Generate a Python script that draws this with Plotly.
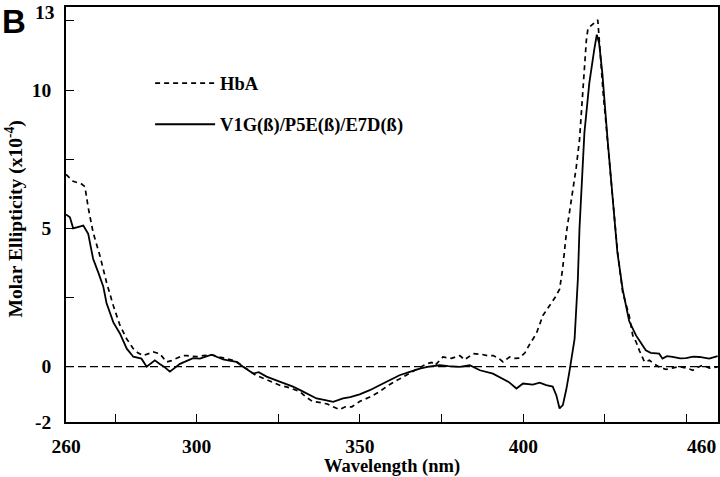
import plotly.graph_objects as go

# HbA (dashed)
hba_wl = [260, 261, 262.2, 263.5, 264.8, 265.8, 266.8, 268.3, 270.4, 272.4, 274.5, 276.5, 278.6, 280.6,
          282, 283.6, 285, 286.7, 288.7, 290.8, 292.3, 293.9, 295.8, 297, 300, 302, 304.6, 307, 309, 312,
          315.2, 318, 321, 325.4, 328, 331.6, 333.5, 335.5, 338, 340, 341.7, 343.8, 345.5, 347.5, 350,
          353, 356, 359, 362, 365, 368, 370.3, 372, 373, 375.4, 378, 380.6, 382, 384.7, 387, 389, 390.8,
          392.5, 393.8, 395.8, 397, 398.8, 400.5, 401.9, 404, 406, 408, 410, 411.1, 412, 413.2, 414.2,
          415.2, 416.2, 417.2, 418, 418.7, 419.3, 419.8, 421, 421.8, 422.8, 423.1, 423.8, 424.5, 425.3,
          426.3, 427.3, 428.8, 430.4, 431.5, 432.4, 433.5, 434.5, 435.5, 436.3, 437.1, 438.6, 440, 441.6,
          443.7, 445.5, 447.8, 450, 451.9, 453.5, 454.9, 457, 459.5]
hba_val = [6.95, 6.85, 6.7, 6.65, 6.6, 6.5, 5.75, 4.85, 4.0, 3.05, 2.2, 1.5, 1.0, 0.65,
           0.5, 0.4, 0.45, 0.53, 0.47, 0.17, 0.22, 0.29, 0.4, 0.4, 0.36, 0.4, 0.43, 0.35, 0.3, 0.2,
           -0.07, -0.3, -0.45, -0.67, -0.75, -0.9, -1.1, -1.26, -1.3, -1.35, -1.45, -1.55, -1.45, -1.45, -1.25,
           -1.1, -0.9, -0.65, -0.45, -0.25, -0.05, 0.1, 0.15, 0.05, 0.35, 0.3, 0.4, 0.25, 0.47, 0.45, 0.4, 0.4,
           0.3, 0.17, 0.35, 0.3, 0.31, 0.5, 0.8, 1.2, 1.85, 2.2, 2.55, 2.8, 3.5, 4.85, 5.6,
           6.4, 7.2, 8.2, 9.5, 10.85, 11.8, 12.23, 12.35, 12.4, 12.53, 12.05, 10.85, 9.8, 8.8,
           7.5, 6.1, 4.2, 2.7, 2.2, 1.85, 1.13, 0.9, 0.59, 0.35, 0.17, 0.23, 0.1, -0.01,
           -0.1, -0.05, 0.0, -0.05, -0.13, -0.02, 0.05, -0.05, -0.01]

# V1G(ß)/P5E(ß)/E7D(ß) (solid)
mut_wl = [260, 261.2, 262.2, 263.5, 265.3, 266.8, 268.3, 269.9, 271.4, 272.4, 274.5, 276.5, 278.6, 280.6,
          283.1, 284.7, 287.2, 288.7, 290, 291.8, 294.9, 298.9, 301, 304.6, 308.1, 310, 312.2, 314.2,
          317.3, 319, 321.4, 325.4, 329.5, 332.6, 336.7, 339, 341.8, 344.8, 347, 349.9, 353, 356, 359,
          362.1, 365, 368.3, 371, 374.4, 377, 380.6, 383.6, 386.7, 390.7, 393.8, 395.5, 397.9, 399.9,
          402.9, 405, 407, 409, 410.1, 411.1, 412.1, 413.2, 414.1, 415, 415.7, 416.7, 417.2, 418.7,
          420.2, 421.7, 422.5, 423.2, 424.2, 425.8, 427.3, 428.8, 430.4, 432.4, 434.5, 436.5, 437.5,
          439, 441.6, 442.6, 444, 445.7, 448, 449.8, 452, 453.9, 456.9, 459.5]
mut_val = [5.5, 5.4, 5.0, 5.05, 5.1, 4.8, 3.9, 3.4, 2.9, 2.3, 1.6, 1.2, 0.65, 0.36,
           0.29, 0.0, 0.23, 0.1, 0.0, -0.18, 0.1, 0.31, 0.29, 0.43, 0.26, 0.22, 0.17, 0.0,
           -0.25, -0.2, -0.36, -0.54, -0.72, -0.9, -1.15, -1.2, -1.27, -1.15, -1.1, -1.0, -0.85, -0.67, -0.5,
           -0.31, -0.2, -0.07, 0.0, 0.05, 0.02, -0.01, 0.05, -0.13, -0.25, -0.43, -0.55, -0.79, -0.61,
           -0.65, -0.58, -0.67, -0.72, -1.03, -1.51, -1.39, -0.8, -0.19, 0.5, 1.0, 3.17, 5.0, 8.45,
           10.25, 11.45, 12.0, 11.7, 10.6, 8.2, 6.05, 4.13, 2.8, 1.65, 1.13, 0.77, 0.59,
           0.5, 0.47, 0.29, 0.38, 0.35, 0.3, 0.31, 0.36, 0.35, 0.29, 0.38]

x_tickvals = [260, 275, 300, 325, 350, 375, 400, 425, 450]
x_ticktext = ["260", "", "300", "", "350", "", "400", "", ""]
x_end_label = "460"
y_tickvals = [-2, 0, 2.5, 5, 7.5, 10, 12.5, 13]
y_ticktext = ["-2", "0", "", "5", "", "10", "", ""]
y_top_label = "13"
y_title = "Molar Ellipticity (x10<sup>-4</sup>)"

SERIF = "Liberation Serif, Times New Roman, serif"

fig = go.Figure()
fig.add_trace(go.Scatter(x=hba_wl, y=hba_val, mode="lines", name="HbA", legendgroup="a",
                         line=dict(color="black", width=1.7, dash="5px,4px")))
fig.add_trace(go.Scatter(x=mut_wl, y=mut_val, mode="lines", name="V1G(ß)/P5E(ß)/E7D(ß)", legendgroup="b",
                         line=dict(color="black", width=1.8)))

fig.add_hline(y=0, line=dict(color="black", width=1.4, dash="8px,4px"))

fig.update_layout(
    template="none",
    width=720, height=477,
    margin=dict(l=66, r=2, t=7, b=55, autoexpand=False),
    paper_bgcolor="white", plot_bgcolor="white",
    font=dict(family=SERIF, color="black", size=18, weight="bold"),
    showlegend=True,
    legend=dict(x=0.129, y=0.861, xanchor="left", yanchor="top", bgcolor="rgba(0,0,0,0)",
                font=dict(family=SERIF, size=18.5, weight="bold"), tracegroupgap=14, itemwidth=60),
    xaxis=dict(range=[260, 459.6], tickvals=x_tickvals, ticktext=x_ticktext, ticks="inside", ticklen=8,
               tickwidth=1.3, tickcolor="black", showline=True, linecolor="black", linewidth=1.6,
               mirror=True, showgrid=False, zeroline=False, automargin=False,
               ticklabeloverflow="allow", ticklabelstandoff=6,
               tickfont=dict(family=SERIF, size=19.5, weight="bold"),
               title=dict(text="Wavelength (nm)", font=dict(family=SERIF, size=18.5, weight="bold"), standoff=2)),
    yaxis=dict(range=[-2, 13], tickvals=y_tickvals, ticktext=y_ticktext, ticks="inside", ticklen=8,
               tickwidth=1.3, tickcolor="black", showline=True, linecolor="black", linewidth=1.6,
               mirror=True, showgrid=False, zeroline=False, automargin=False,
               ticklabeloverflow="allow", ticklabelstandoff=9,
               tickfont=dict(family=SERIF, size=19.5, weight="bold")),
)

fig.add_annotation(x=0, y=0.5, xref="paper", yref="paper", xshift=-52, yshift=-5, text=y_title,
                   textangle=-90, showarrow=False, xanchor="center", yanchor="middle",
                   font=dict(family=SERIF, size=19.5, weight="bold"))
fig.add_annotation(x=0, y=13, xref="paper", yref="y", xshift=-9, yshift=7, text=y_top_label, showarrow=False,
                   xanchor="right", yanchor="top", font=dict(family=SERIF, size=19.5, weight="bold"))
fig.add_annotation(x=459.6, y=0, xref="x", yref="paper", yshift=-12, text=x_end_label, showarrow=False,
                   xanchor="right", yanchor="top", font=dict(family=SERIF, size=19.5, weight="bold"))
fig.add_annotation(x=0, y=1, xref="paper", yref="paper", xshift=-66, yshift=6, text="B", showarrow=False,
                   xanchor="left", yanchor="top",
                   font=dict(family="Liberation Sans, Arial, sans-serif", size=33, weight="bold"))

fig.write_html("out.html", config={"displayModeBar": False},
               post_script="document.body.style.margin='0';document.body.style.overflow='hidden';")
